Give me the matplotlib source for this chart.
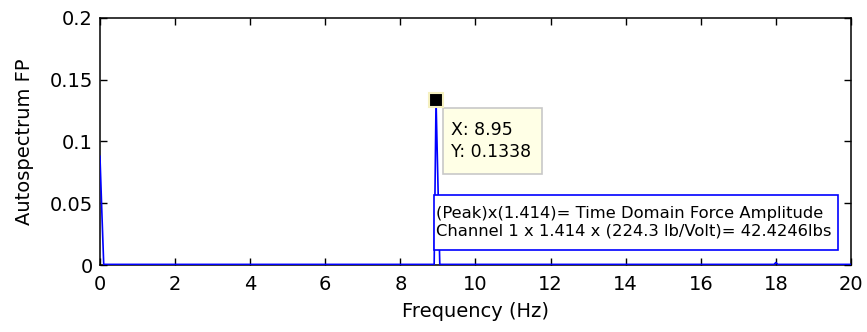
import matplotlib.pyplot as plt
from matplotlib.patches import Rectangle

plt.rcParams['font.family'] = ['DejaVu Sans']

# Spectrum samples (Hz, amplitude) - only the samples that differ from ~0
freq = [0.0, 0.05, 0.1, 8.9, 8.95, 9.0, 9.05, 17.95, 18.0, 18.05, 20.0]
amp = [0.088, 0.043, 0.0005, 0.0005, 0.1338, 0.067, 0.0005, 0.0005, 0.002, 0.0005, 0.0005]

peak_x = 8.95
peak_y = 0.1338

x_ticks = [0, 2, 4, 6, 8, 10, 12, 14, 16, 18, 20]
y_ticks = [0, 0.05, 0.1, 0.15, 0.2]
y_tick_labels = ['0', '0.05', '0.1', '0.15', '0.2']

note_lines = ["(Peak)x(1.414)= Time Domain Force Amplitude",
              "Channel 1 x 1.414 x (224.3 lb/Volt)= 42.4246lbs"]

fig = plt.figure(figsize=(8.67, 3.32), dpi=100)
ax = fig.add_axes([0.1153, 0.2018, 0.8662, 0.744])

ax.plot(freq, amp, color='#0000ff', linewidth=1.2, zorder=3)

ax.set_xlim(0, 20)
ax.set_ylim(0, 0.2)
ax.set_xticks(x_ticks)
ax.set_yticks(y_ticks)
ax.set_yticklabels(y_tick_labels)
ax.tick_params(direction='in', length=5, width=1, top=True, right=True,
               labelsize=14)
ax.tick_params(axis='y', pad=5)
ax.tick_params(axis='x', pad=7)
for s in ax.spines.values():
    s.set_linewidth(1.1)
ax.set_xlabel("Frequency (Hz)", fontsize=14, labelpad=6)
ax.set_ylabel("Autospectrum FP", fontsize=14, labelpad=11)

# data tip
ax.plot([peak_x], [peak_y], marker='s', markersize=10, color='black',
        markeredgecolor='#f5f0c0', markeredgewidth=1.5, zorder=6, clip_on=False)
ax.add_patch(Rectangle((9.13, 0.0737), 2.64, 0.0533, facecolor='#ffffe6',
                       edgecolor='#c8c8c8', linewidth=1.2, zorder=5))
ax.text(9.35, 0.1005, "X: %.2f\nY: %.4f" % (peak_x, peak_y), fontsize=12.5,
        va='center', ha='left', linespacing=1.25, zorder=6)

# note box
ax.add_patch(Rectangle((8.89, 0.0121), 10.76, 0.0446, facecolor='white',
                       edgecolor='#0000ff', linewidth=1.2, zorder=5))
ax.text(8.96, 0.0344, "\n".join(note_lines), fontsize=11.8, va='center',
        ha='left', linespacing=1.2, zorder=6)

fig.savefig("out.png", dpi=100)
